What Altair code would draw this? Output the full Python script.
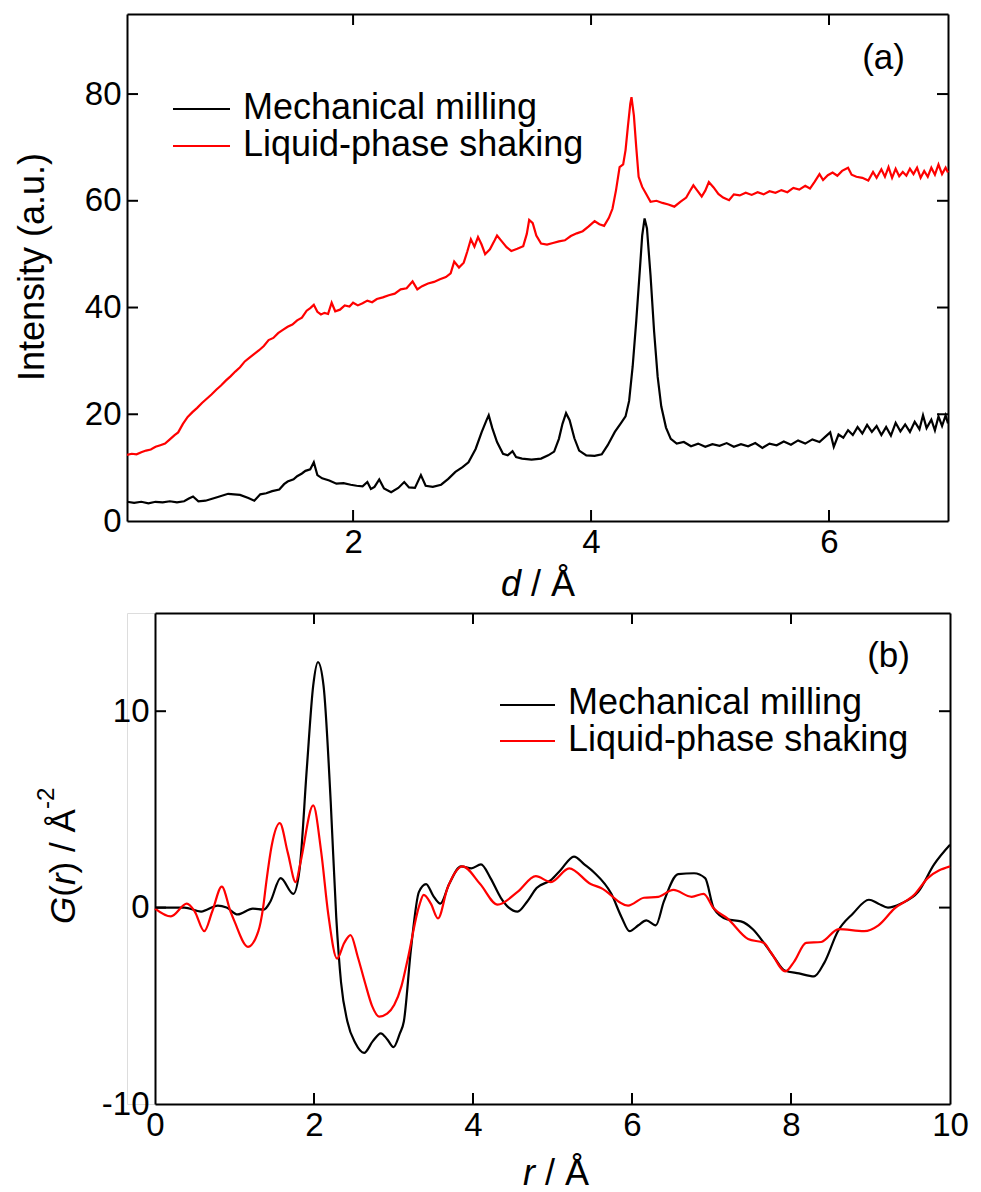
import altair as alt
import pandas as pd

# ---------------- data ----------------
series_names = ["Mechanical milling", "Liquid-phase shaking"]
series_colors = ["#000000", "#ff0000"]

# (a) intensity vs d
xrd_d_mm = [0.10,0.16,0.22,0.28,0.34,0.40,0.46,0.52,0.58,0.62,0.655,0.70,0.76,0.85,0.95,1.05,1.12,1.17,1.22,1.27,
            1.32,1.38,1.42,1.45,1.50,1.53,1.57,1.60,1.64,1.67,1.70,1.74,1.80,1.86,1.92,1.98,2.03,2.08,2.12,2.15,
            2.18,2.22,2.26,2.32,2.38,2.43,2.47,2.52,2.57,2.61,2.67,2.74,2.80,2.86,2.92,2.97,3.03,3.08,3.12,3.14,
            3.17,3.21,3.26,3.30,3.34,3.37,3.42,3.50,3.58,3.64,3.69,3.73,3.76,3.79,3.82,3.86,3.90,3.96,4.03,4.09,
            4.14,4.20,4.25,4.29,4.32,4.35,4.38,4.41,4.43,4.45,4.47,4.50,4.53,4.56,4.59,4.63,4.67,4.72,4.78,4.84,
            4.90,4.96,5.02,5.08,5.14,5.20,5.26,5.32,5.38,5.44,5.50,5.56,5.62,5.68,5.74,5.80,5.86,5.92,5.97,6.01,
            6.04,6.08,6.12,6.16,6.20,6.24,6.28,6.32,6.36,6.40,6.44,6.48,6.52,6.56,6.60,6.64,6.68,6.72,6.76,6.79,
            6.82,6.86,6.89,6.92,6.95,6.98,7.00]
xrd_i_mm = [3.6,3.4,3.6,3.3,3.6,3.5,3.7,3.5,3.7,4.2,4.6,3.7,3.8,4.4,5.1,4.9,4.3,3.8,5.0,5.2,
            5.6,5.9,6.9,7.4,7.8,8.4,8.9,9.4,9.7,11.0,8.6,8.0,7.6,7.0,7.1,6.8,6.6,6.5,7.3,6.0,
            6.4,7.8,6.1,5.4,6.2,7.3,6.3,6.2,8.6,6.6,6.4,6.8,7.9,9.2,10.1,11.0,13.5,16.6,18.8,19.8,
            17.4,14.8,12.6,12.3,13.1,12.0,11.7,11.5,11.7,12.3,13.0,15.4,18.2,20.2,18.9,15.5,13.2,12.3,12.2,12.5,
            14.2,16.7,18.3,19.6,22.5,29.0,37.5,47.0,53.5,56.7,54.8,46.0,35.5,27.0,21.5,17.5,15.4,14.5,14.8,14.0,
            14.5,13.9,14.4,14.1,14.6,13.9,14.4,14.0,14.6,13.7,14.5,14.2,14.9,14.3,15.1,14.5,15.3,14.8,15.8,16.6,
            13.9,16.2,15.6,17.0,16.1,17.6,16.4,18.0,16.7,17.8,16.1,17.6,16.0,18.4,16.8,18.1,16.7,18.6,17.2,19.8,
            17.4,19.0,17.0,19.6,17.8,19.8,18.3]

xrd_d_lps = [0.10,0.14,0.18,0.22,0.26,0.30,0.34,0.38,0.42,0.46,0.50,0.53,0.57,0.61,0.65,0.69,0.73,0.77,0.81,0.85,
             0.89,0.93,0.97,1.01,1.05,1.09,1.13,1.17,1.21,1.25,1.29,1.33,1.37,1.41,1.45,1.49,1.53,1.57,1.61,1.64,
             1.67,1.70,1.73,1.76,1.79,1.82,1.85,1.89,1.93,1.97,2.00,2.04,2.08,2.12,2.16,2.20,2.25,2.30,2.35,2.40,
             2.45,2.50,2.54,2.58,2.63,2.68,2.73,2.78,2.82,2.85,2.89,2.93,2.96,2.99,3.02,3.05,3.08,3.11,3.15,3.19,
             3.21,3.25,3.29,3.33,3.38,3.43,3.46,3.48,3.51,3.54,3.58,3.63,3.68,3.73,3.78,3.83,3.88,3.93,3.98,4.03,
             4.07,4.11,4.15,4.18,4.21,4.24,4.27,4.29,4.31,4.33,4.34,4.36,4.38,4.40,4.43,4.46,4.50,4.55,4.60,4.65,
             4.70,4.75,4.80,4.83,4.86,4.89,4.93,4.96,4.99,5.03,5.07,5.11,5.16,5.20,5.25,5.30,5.35,5.40,5.45,5.50,
             5.55,5.60,5.65,5.70,5.75,5.80,5.84,5.88,5.92,5.95,5.99,6.03,6.07,6.11,6.16,6.19,6.23,6.28,6.33,6.37,
             6.40,6.44,6.47,6.50,6.53,6.56,6.59,6.62,6.65,6.68,6.71,6.74,6.77,6.80,6.83,6.86,6.89,6.92,6.95,6.98,
             7.00]
xrd_i_lps = [12.4,12.6,12.5,12.9,13.2,13.4,13.9,14.2,14.5,15.3,16.1,16.6,18.2,19.5,20.4,21.2,22.1,22.9,23.7,24.6,
             25.4,26.3,27.1,28.0,28.8,29.9,30.6,31.3,32.0,32.8,33.9,34.3,35.2,35.8,36.4,36.8,37.6,38.1,39.4,39.9,
             40.5,39.2,38.7,39.0,38.8,40.9,39.3,39.6,40.4,40.2,40.9,40.4,40.8,41.3,41.0,41.6,41.9,42.3,42.6,43.4,
             43.6,44.9,43.4,44.0,44.5,44.8,45.3,45.7,46.4,48.6,47.5,48.4,50.5,52.8,51.4,53.2,51.8,50.0,50.9,52.6,
             53.5,52.4,51.3,50.6,51.0,51.5,53.8,56.4,55.8,53.5,52.0,51.8,52.1,52.4,52.6,53.4,53.9,54.3,55.2,56.2,
             55.6,55.3,56.8,58.5,62.0,66.3,66.8,69.5,74.0,78.2,79.4,76.0,70.0,64.5,62.6,61.4,59.8,60.0,59.6,59.3,
             58.9,59.8,60.6,61.8,62.9,62.0,60.8,61.9,63.5,62.5,61.3,60.6,60.1,61.2,61.0,61.5,61.1,61.6,61.2,61.8,
             61.5,62.0,61.6,62.4,62.1,62.8,62.3,63.6,65.0,63.9,64.8,65.3,64.7,65.6,66.2,64.9,64.5,64.3,63.8,65.4,
             64.3,65.9,64.5,66.3,64.3,66.0,64.6,65.4,64.7,66.0,65.0,66.2,64.3,65.6,64.5,66.2,64.9,66.8,65.0,66.2,
             65.3]

# (b) G(r) vs r
pdf_r_mm = [0.00,0.20,0.37,0.58,0.79,0.90,1.04,1.23,1.37,1.45,1.58,1.74,1.82,1.91,1.99,2.05,2.12,2.21,2.28,2.34,
            2.42,2.52,2.63,2.74,2.84,2.92,3.00,3.08,3.13,3.22,3.32,3.41,3.50,3.59,3.70,3.85,3.98,4.10,4.22,4.35,
            4.45,4.56,4.68,4.80,4.98,5.10,5.27,5.40,5.52,5.74,5.87,5.97,6.08,6.18,6.30,6.40,6.58,6.78,6.92,7.03,
            7.20,7.37,7.52,7.66,7.80,7.92,8.10,8.29,8.42,8.59,8.78,8.98,9.10,9.22,9.38,9.60,9.80,10.00]
pdf_g_mm = [0.0,0.0,0.0,-0.2,0.1,0.0,-0.35,-0.05,-0.1,0.3,1.5,0.7,2.0,7.1,11.3,12.5,11.3,5.4,-0.5,-3.8,
            -5.8,-6.9,-7.4,-6.8,-6.4,-6.7,-7.1,-6.4,-5.8,-2.1,0.8,1.2,0.6,0.2,1.2,2.1,2.0,2.2,1.5,0.5,
            0.0,-0.2,0.3,1.0,1.4,1.9,2.6,2.2,1.8,0.7,-0.5,-1.2,-0.9,-0.65,-0.9,0.3,1.7,1.75,1.5,-0.05,
            -0.6,-0.7,-1.1,-1.8,-2.6,-3.2,-3.35,-3.5,-2.8,-1.2,-0.3,0.4,0.2,0.0,0.2,0.8,2.2,3.2]

pdf_r_lps = [0.00,0.20,0.40,0.50,0.62,0.72,0.84,0.95,1.00,1.17,1.30,1.36,1.40,1.47,1.57,1.67,1.77,1.83,1.99,2.09,
             2.18,2.29,2.38,2.46,2.55,2.64,2.73,2.82,2.92,3.01,3.10,3.18,3.32,3.38,3.47,3.56,3.68,3.87,4.09,4.31,
             4.56,4.79,4.98,5.21,5.48,5.61,5.95,6.15,6.33,6.52,6.75,6.90,7.03,7.20,7.46,7.66,7.75,7.93,8.04,8.19,
             8.38,8.60,8.92,9.10,9.30,9.55,9.72,10.00]
pdf_g_lps = [-0.05,-0.45,0.2,-0.2,-1.2,-0.2,1.07,-0.2,-0.7,-2.0,-1.2,0.0,1.3,3.2,4.3,2.8,1.3,2.3,5.2,2.85,
             -0.35,-2.6,-1.8,-1.4,-2.5,-3.8,-5.0,-5.55,-5.4,-4.95,-4.0,-2.6,0.05,0.65,0.2,-0.55,1.0,2.1,1.2,0.15,
             0.8,1.6,1.3,2.0,1.2,1.0,0.1,0.5,0.55,0.9,0.55,0.7,-0.05,-0.55,-1.6,-1.8,-2.3,-3.25,-2.75,-1.8,
             -1.75,-1.1,-1.2,-0.9,-0.05,0.65,1.5,2.1]

xrd_xticks = [2, 4, 6]
xrd_yticks = [0, 20, 40, 60, 80]
pdf_xticks = [0, 2, 4, 6, 8, 10]
pdf_yticks = [-10, 0, 10]

# ---------------- layout constants ----------------
FONT = "Liberation Sans"
TICK_FS = 33
W1, H1 = 821, 507
W2, H2 = 823, 491
X2_START = 28
TL = 11  # inward tick length
LW = 2.2
HYPHEN_MINUS = "replace(datum.label, '\u2212', '-')"


def one(text):
    return pd.DataFrame({"t": [text]})


def txt(text, x, y, size, align="left", style="normal", angle=0):
    kw = dict(font=FONT, fontSize=size, align=align, baseline="alphabetic",
              fontStyle=style, color="black")
    if angle:
        kw["angle"] = angle
    return alt.Chart(one(text)).mark_text(**kw).encode(
        x=alt.value(x), y=alt.value(y), text="t:N")


def hline(x1, x2, y, color):
    return alt.Chart(one("l")).mark_rule(color=color, strokeWidth=LW).encode(
        x=alt.value(x1), x2=alt.value(x2), y=alt.value(y))


def main_axis(values, pad, offset=0):
    kw = dict(values=values, title=None, ticks=False, tickSize=0, grid=False,
              labelFont=FONT, labelFontSize=TICK_FS, labelColor="black",
              labelPadding=pad, labelFlush=False, labelOverlap=False,
              domain=True, domainColor="black", domainWidth=2, labelExpr=HYPHEN_MINUS)
    if offset:
        kw["offset"] = offset
    return alt.Axis(**kw)


def mirror_axis(orient):
    return alt.Axis(orient=orient, title=None, labels=False, ticks=False, grid=False,
                    domain=True, domainColor="black", domainWidth=2)


def panel(xf, yf, xs_list, ys_list, xscale, yscale, xvals, yvals, xtick_vals, ytick_vals,
          x_left, x_right, height, left_offset):
    layers = []
    for k, (xs, ys) in enumerate(zip(xs_list, ys_list)):
        df = pd.DataFrame({xf: xs, yf: ys})
        first = k == 0
        layers.append(
            alt.Chart(df).mark_line(color=series_colors[k], strokeWidth=LW,
                                    interpolate="monotone" if xf == "r" else "linear").encode(
                x=alt.X(f"{xf}:Q", scale=xscale,
                        axis=main_axis(xvals, 5) if first else None),
                y=alt.Y(f"{yf}:Q", scale=yscale,
                        axis=main_axis(yvals, 6, left_offset) if first else None),
            )
        )
    dx = pd.DataFrame({xf: xtick_vals})
    dy = pd.DataFrame({yf: ytick_vals})
    # top ticks (with top frame line) and bottom ticks
    layers.append(alt.Chart(dx).mark_rule(color="black", strokeWidth=2).encode(
        x=alt.X(f"{xf}:Q", scale=xscale, axis=mirror_axis("top")),
        y=alt.value(0), y2=alt.value(TL)))
    layers.append(alt.Chart(dx).mark_rule(color="black", strokeWidth=2).encode(
        x=alt.X(f"{xf}:Q", scale=xscale, axis=None),
        y=alt.value(height - TL), y2=alt.value(height)))
    # left ticks and right ticks (with right frame line)
    layers.append(alt.Chart(dy).mark_rule(color="black", strokeWidth=2).encode(
        y=alt.Y(f"{yf}:Q", scale=yscale, axis=None),
        x=alt.value(x_left), x2=alt.value(x_left + TL)))
    layers.append(alt.Chart(dy).mark_rule(color="black", strokeWidth=2).encode(
        y=alt.Y(f"{yf}:Q", scale=yscale, axis=mirror_axis("right")),
        x=alt.value(x_right - TL), x2=alt.value(x_right)))
    return layers


# ---------------- panel (a) ----------------
xs1 = alt.Scale(domain=[0.1, 7.0], nice=False, zero=False)
ys1 = alt.Scale(domain=[0, 95], nice=False, zero=False)
layers_a = panel("d", "I", [xrd_d_mm, xrd_d_lps], [xrd_i_mm, xrd_i_lps], xs1, ys1,
                 xrd_xticks, xrd_yticks, xrd_xticks, [20, 40, 60, 80], 0, W1, H1, 0)
layers_a += [
    hline(46, 103, 95, series_colors[0]),
    hline(46, 103, 132, series_colors[1]),
    txt(series_names[0], 116, 105, 36),
    txt(series_names[1], 116, 142, 36),
    txt("(a)", 778, 55, 35, align="right"),
    txt("Intensity (a.u.)", -83, 253, 36, align="center", angle=270),
    txt("d", 394, 582, 36, align="right", style="italic"),
    txt("/ Å", 404, 582, 36, align="left"),
]
top = alt.layer(*layers_a).resolve_axis(x="independent", y="independent").properties(
    width=W1, height=H1)

# ---------------- panel (b) ----------------
xs2 = alt.Scale(domain=[0, 10], range=[X2_START, W2], nice=False, zero=False)
ys2 = alt.Scale(domain=[-10, 15], nice=False, zero=False)
layers_b = panel("r", "G", [pdf_r_mm, pdf_r_lps], [pdf_g_mm, pdf_g_lps], xs2, ys2,
                 pdf_xticks, pdf_yticks, [2, 4, 6, 8], [0, 10], X2_START, W2, H2, -X2_START)
layers_b += [
    hline(373, 428, 92, series_colors[0]),
    hline(373, 428, 128, series_colors[1]),
    txt(series_names[0], 441, 101, 36),
    txt(series_names[1], 441, 138, 36),
    txt("(b)", 783, 54, 35, align="right"),
    txt("r", 408, 572, 36, align="right", style="italic"),
    txt("/ Å", 418, 572, 36, align="left"),
    txt("G", -52, 311, 35, style="italic", angle=270),
    txt("(", -52, 283.8, 35, angle=270),
    txt("r", -52, 272.1, 35, style="italic", angle=270),
    txt(") / Å", -52, 260.4, 35, angle=270),
    txt("-2", -73, 196, 24, angle=270),
]
bottom = alt.layer(*layers_b).resolve_axis(x="independent", y="independent").properties(
    width=W2, height=H2)

chart = alt.vconcat(top, bottom, spacing=7).resolve_scale(
    x="independent", y="independent").properties(
    padding={"left": 14, "top": 12, "right": 0, "bottom": 0}
).configure_view(stroke=None, fill=None).configure_axis(
    domain=False, grid=False, ticks=False
).configure(font=FONT)

chart.save("out.html", embed_options={"renderer": "svg", "actions": False})
